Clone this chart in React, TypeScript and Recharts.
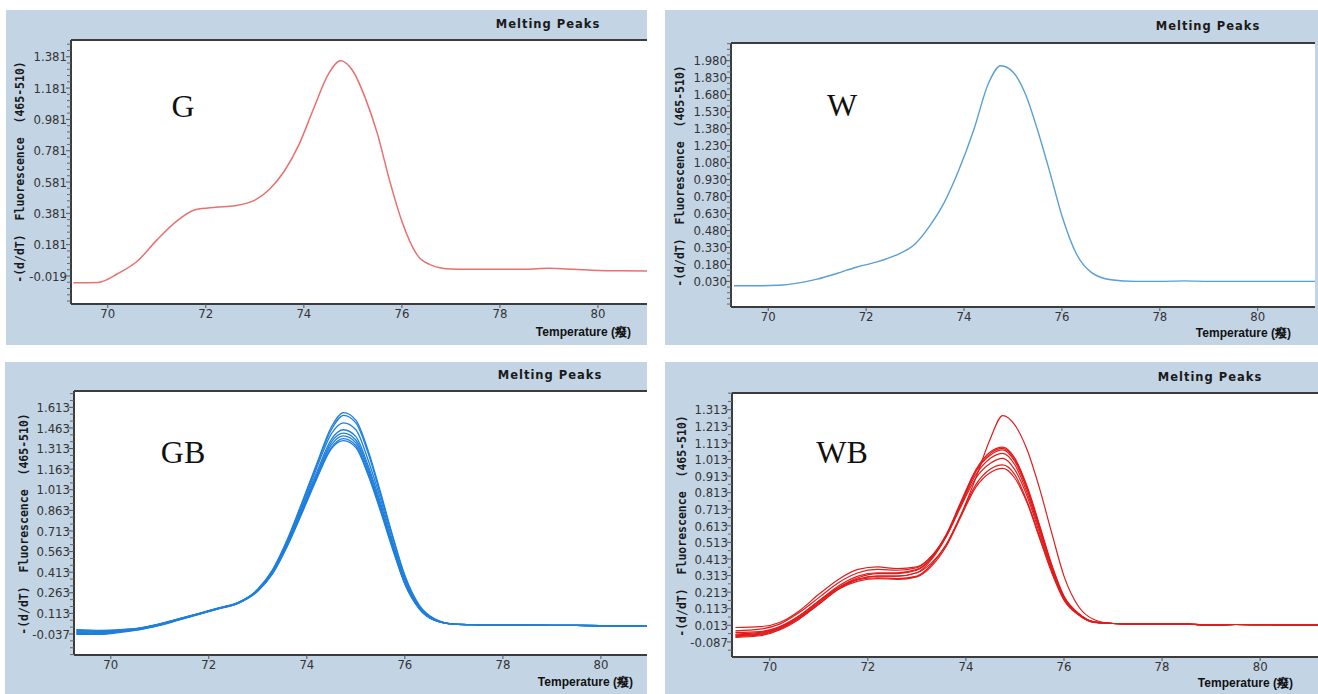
import { LineChart, Line, XAxis, YAxis, CartesianGrid, ReferenceLine } from "recharts";

// temperature grid (°C) shared by every trace
const temps = [
  69.3, 69.8, 70.2, 70.6, 71.0, 71.4, 71.8, 72.2, 72.6, 73.0, 73.3, 73.6, 73.9, 74.2, 74.5, 74.75,
  75.0, 75.25, 75.5, 75.75, 76.0, 76.3, 76.6, 77.0, 77.5, 78.0, 78.5, 79.0, 79.5, 80.0, 80.5, 81.0, 81.2,
];

const xTicks = [70, 72, 74, 76, 78, 80];

// G
const gValues = [
  -0.062, -0.06, -0.005, 0.075, 0.21, 0.33, 0.405, 0.42, 0.43, 0.465, 0.535, 0.65, 0.82, 1.05, 1.27, 1.355,
  1.29, 1.12, 0.89, 0.59, 0.33, 0.12, 0.05, 0.025, 0.024, 0.024, 0.024, 0.03, 0.024, 0.016, 0.014, 0.013, 0.013,
];
const gTicks = [-0.019, 0.181, 0.381, 0.581, 0.781, 0.981, 1.181, 1.381];

// W
const wValues = [
  -0.008, -0.008, -0.004, 0.015, 0.05, 0.1, 0.155, 0.2, 0.26, 0.36, 0.52, 0.73, 1.02, 1.37, 1.78, 1.935,
  1.88, 1.69, 1.37, 1.0, 0.61, 0.27, 0.11, 0.045, 0.03, 0.03, 0.035, 0.03, 0.03, 0.03, 0.03, 0.03, 0.03,
];
const wTicks = [0.03, 0.18, 0.33, 0.48, 0.63, 0.78, 0.93, 1.08, 1.23, 1.38, 1.53, 1.68, 1.83, 1.98];

// GB (8 replicates)
const gbTail = [0.035, 0.03, 0.028, 0.027, 0.026, 0.025, 0.023, 0.022, 0.021, 0.021];
const gb1 = [-0.035, -0.03, -0.015, 0.0, 0.03, 0.07, 0.11, 0.15, 0.19, 0.29, 0.43, 0.65, 0.92, 1.2, 1.47, 1.575, 1.52, 1.3, 1.0, 0.68, 0.39, 0.17, 0.075, ...gbTail];
const gb2 = [-0.03, -0.035, -0.02, -0.003, 0.028, 0.068, 0.108, 0.148, 0.188, 0.285, 0.425, 0.64, 0.91, 1.19, 1.45, 1.555, 1.5, 1.28, 0.98, 0.67, 0.38, 0.165, 0.072, ...gbTail];
const gb3 = [-0.01, -0.015, -0.008, 0.006, 0.036, 0.074, 0.112, 0.152, 0.192, 0.282, 0.42, 0.63, 0.89, 1.17, 1.42, 1.5, 1.45, 1.23, 0.95, 0.64, 0.36, 0.16, 0.07, ...gbTail];
const gb4 = [-0.02, -0.025, -0.012, 0.004, 0.034, 0.072, 0.11, 0.15, 0.19, 0.28, 0.415, 0.625, 0.88, 1.14, 1.38, 1.45, 1.4, 1.19, 0.92, 0.62, 0.35, 0.155, 0.068, ...gbTail];
const gb5 = [-0.005, -0.01, -0.005, 0.008, 0.037, 0.075, 0.113, 0.153, 0.193, 0.28, 0.41, 0.62, 0.87, 1.12, 1.36, 1.425, 1.375, 1.17, 0.9, 0.61, 0.34, 0.15, 0.066, ...gbTail];
const gb6 = [-0.04, -0.04, -0.025, -0.005, 0.025, 0.065, 0.105, 0.145, 0.185, 0.275, 0.405, 0.61, 0.86, 1.11, 1.34, 1.405, 1.355, 1.15, 0.88, 0.6, 0.335, 0.148, 0.065, ...gbTail];
const gb7 = [-0.015, -0.02, -0.01, 0.005, 0.035, 0.073, 0.111, 0.151, 0.19, 0.278, 0.405, 0.605, 0.85, 1.1, 1.32, 1.385, 1.335, 1.13, 0.87, 0.59, 0.33, 0.145, 0.064, ...gbTail];
const gb8 = [-0.025, -0.03, -0.018, 0.0, 0.03, 0.069, 0.108, 0.148, 0.188, 0.276, 0.4, 0.6, 0.84, 1.09, 1.31, 1.37, 1.32, 1.12, 0.86, 0.58, 0.325, 0.143, 0.063, ...gbTail];
const gbTicks = [-0.037, 0.113, 0.263, 0.413, 0.563, 0.713, 0.863, 1.013, 1.163, 1.313, 1.463, 1.613];

// WB (8 replicates)
const wbTail = [0.024, 0.02, 0.02, 0.02, 0.014, 0.018, 0.017, 0.016, 0.016, 0.016];
const wb1 = [-0.03, -0.025, 0.005, 0.07, 0.16, 0.24, 0.29, 0.31, 0.31, 0.33, 0.39, 0.5, 0.68, 0.9, 1.14, 1.278, 1.22, 1.07, 0.84, 0.57, 0.31, 0.125, 0.05, ...wbTail];
const wb2 = [-0.05, -0.04, -0.005, 0.06, 0.15, 0.24, 0.3, 0.325, 0.325, 0.345, 0.42, 0.56, 0.76, 0.95, 1.06, 1.088, 1.02, 0.85, 0.62, 0.38, 0.19, 0.085, 0.035, ...wbTail];
const wb3 = [-0.06, -0.05, -0.015, 0.05, 0.14, 0.23, 0.29, 0.31, 0.31, 0.33, 0.41, 0.55, 0.75, 0.94, 1.05, 1.08, 1.01, 0.84, 0.61, 0.37, 0.185, 0.083, 0.034, ...wbTail];
const wb4 = [-0.02, -0.01, 0.02, 0.09, 0.18, 0.27, 0.33, 0.35, 0.345, 0.36, 0.43, 0.56, 0.75, 0.94, 1.04, 1.071, 1.0, 0.83, 0.6, 0.37, 0.18, 0.08, 0.034, ...wbTail];
const wb5 = [-0.04, -0.03, 0.0, 0.07, 0.16, 0.25, 0.31, 0.33, 0.33, 0.35, 0.42, 0.55, 0.74, 0.92, 1.02, 1.05, 0.98, 0.81, 0.59, 0.36, 0.18, 0.08, 0.033, ...wbTail];
const wb6 = [0.0, 0.005, 0.03, 0.1, 0.2, 0.29, 0.35, 0.365, 0.355, 0.365, 0.43, 0.55, 0.73, 0.9, 0.99, 1.02, 0.95, 0.79, 0.57, 0.35, 0.175, 0.078, 0.032, ...wbTail];
const wb7 = [-0.045, -0.035, -0.005, 0.06, 0.15, 0.24, 0.29, 0.3, 0.295, 0.31, 0.38, 0.5, 0.68, 0.86, 0.955, 0.98, 0.92, 0.76, 0.55, 0.34, 0.17, 0.076, 0.032, ...wbTail];
const wb8 = [-0.055, -0.045, -0.01, 0.055, 0.14, 0.23, 0.28, 0.295, 0.29, 0.305, 0.37, 0.49, 0.67, 0.845, 0.935, 0.96, 0.9, 0.75, 0.54, 0.33, 0.165, 0.075, 0.031, ...wbTail];
const wbTicks = [-0.087, 0.013, 0.113, 0.213, 0.313, 0.413, 0.513, 0.613, 0.713, 0.813, 0.913, 1.013, 1.113, 1.213, 1.313];

const PANEL_BG = "#c3d4e5";
const FRAME = "#3c3c3c";
const TICK_FONT = "'Liberation Sans Narrow', 'DejaVu Sans Condensed', 'Liberation Sans', sans-serif";
const Y_TITLE = "-(d/dT)  Fluorescence  (465-510)";
const X_TITLE = "Temperature (癈)";

function buildRows(series: number[][]) {
  return temps.map((t, i) => {
    const row: Record<string, number> = { t };
    series.forEach((s, k) => {
      row["s" + k] = s[i];
    });
    return row;
  });
}

// major ticks plus minor marks between them
function withMinors(majors: number[], sub: number, domain: [number, number]) {
  const step = (majors[1] - majors[0]) / sub;
  const out: number[] = [];
  for (let v = majors[0]; v >= domain[0]; v -= step) out.unshift(+v.toFixed(4));
  for (let v = majors[0] + step; v <= domain[1]; v += step) out.push(+v.toFixed(4));
  return out;
}

const makeYTick = (majors: number[]) => (props: any) => {
  const { x, y, payload } = props;
  const major = majors.some((m) => Math.abs(m - payload.value) < 1e-4);
  if (!major) {
    return <line x1={x - 4} x2={x} y1={y} y2={y} stroke="#666" strokeWidth={1} />;
  }
  return (
    <g>
      <line x1={x - 5} x2={x} y1={y} y2={y} stroke="#555" strokeWidth={1} />
      <text x={x - 4} y={y} dy="0.36em" textAnchor="end" fontSize={13} fontFamily={TICK_FONT} fill="#333">
        {payload.value.toFixed(3)}
      </text>
    </g>
  );
};

interface PanelProps {
  left: number;
  top: number;
  w: number;
  h: number;
  plot: { l: number; t: number; r: number; b: number };
  xDomain: [number, number];
  yDomain: [number, number];
  majors: number[];
  sub: number;
  series: number[][];
  color: string;
  strokeWidth: number;
  letter: string;
  letterAt: [number, number];
  titleAt: [number, number];
  yLabelAt: [number, number];
  xLabelAt: [number, number];
}

function Panel(p: PanelProps) {
  const rows = buildRows(p.series);
  const yAxisW = 50;
  const xAxisH = 30;
  return (
    <div style={{ position: "absolute", left: p.left, top: p.top, width: p.w, height: p.h, background: PANEL_BG, overflow: "hidden" }}>
      <LineChart
        width={p.w}
        height={p.h}
        data={rows}
        margin={{ top: p.plot.t, right: p.w - p.plot.r, left: p.plot.l - yAxisW, bottom: p.h - p.plot.b - xAxisH }}
      >
        <CartesianGrid horizontal={false} vertical={false} fill="#ffffff" stroke="none" />
        <XAxis
          type="number"
          dataKey="t"
          domain={p.xDomain}
          allowDataOverflow
          ticks={xTicks}
          interval={0}
          height={xAxisH}
          tickSize={4}
          tickMargin={1}
          axisLine={{ stroke: FRAME, strokeWidth: 2 }}
          tickLine={{ stroke: "#555" }}
          tick={{ fontSize: 13, fill: "#333", fontFamily: TICK_FONT }}
        />
        <YAxis
          type="number"
          domain={p.yDomain}
          allowDataOverflow
          ticks={withMinors(p.majors, p.sub, p.yDomain)}
          interval={0}
          width={yAxisW}
          tickSize={0}
          tickMargin={0}
          tickLine={false}
          axisLine={{ stroke: FRAME, strokeWidth: 2 }}
          tick={makeYTick(p.majors)}
        />
        <ReferenceLine y={p.yDomain[1]} stroke={FRAME} strokeWidth={2} ifOverflow="visible" />
        {p.series.map((_, k) => (
          <Line
            key={k}
            type="monotone"
            dataKey={"s" + k}
            stroke={p.color}
            strokeWidth={p.strokeWidth}
            dot={false}
            activeDot={false}
            isAnimationActive={false}
          />
        ))}
      </LineChart>
      <div
        style={{
          position: "absolute",
          left: p.letterAt[0],
          top: p.letterAt[1],
          transform: "translate(-50%, -50%)",
          fontFamily: "'Liberation Serif', 'Times New Roman', serif",
          fontSize: 32,
          lineHeight: 1,
          color: "#111",
        }}
      >
        {p.letter}
      </div>
      <div
        style={{
          position: "absolute",
          left: p.titleAt[0],
          top: p.titleAt[1],
          transform: "translate(-50%, -50%)",
          fontFamily: "'DejaVu Sans', Verdana, sans-serif",
          fontWeight: "bold",
          fontSize: 11.5,
          letterSpacing: "1px",
          whiteSpace: "nowrap",
          color: "#1a1a1a",
        }}
      >
        Melting Peaks
      </div>
      <div
        style={{
          position: "absolute",
          left: p.yLabelAt[0],
          top: p.yLabelAt[1],
          transform: "translate(-50%, -50%) rotate(-90deg)",
          fontFamily: "'DejaVu Sans Mono', 'Liberation Mono', monospace",
          fontWeight: "bold",
          fontSize: 11.5,
          lineHeight: 1,
          whiteSpace: "pre",
          color: "#1a1a1a",
        }}
      >
        {Y_TITLE}
      </div>
      <div
        style={{
          position: "absolute",
          right: p.w - p.xLabelAt[0],
          top: p.xLabelAt[1],
          transform: "translateY(-50%)",
          fontFamily: "'Liberation Sans', Arial, sans-serif",
          fontWeight: "bold",
          fontSize: 12,
          lineHeight: 1,
          whiteSpace: "nowrap",
          color: "#111",
        }}
      >
        {X_TITLE}
      </div>
    </div>
  );
}

export default function App() {
  return (
    <div style={{ position: "absolute", left: 0, top: 0, width: 1318, height: 694, background: "#ffffff", overflow: "hidden" }}>
      <Panel
        left={6}
        top={10}
        w={641}
        h={335}
        plot={{ l: 65, t: 30, r: 641, b: 294 }}
        xDomain={[69.25, 81.0]}
        yDomain={[-0.198, 1.488]}
        majors={gTicks}
        sub={5}
        series={[gValues]}
        color="#e8706e"
        strokeWidth={1.5}
        letter="G"
        letterAt={[177, 96]}
        titleAt={[542, 14]}
        yLabelAt={[15, 162]}
        xLabelAt={[625, 322]}
      />
      <Panel
        left={665}
        top={10}
        w={653}
        h={335}
        plot={{ l: 66, t: 33, r: 650, b: 297 }}
        xDomain={[69.24, 81.17]}
        yDomain={[-0.196, 2.136]}
        majors={wTicks}
        sub={3}
        series={[wValues]}
        color="#5a9fd4"
        strokeWidth={1.4}
        letter="W"
        letterAt={[177, 95]}
        titleAt={[543, 16]}
        yLabelAt={[16, 166]}
        xLabelAt={[626, 323]}
      />
      <Panel
        left={5}
        top={362}
        w={642}
        h={332}
        plot={{ l: 69, t: 29, r: 642, b: 293 }}
        xDomain={[69.25, 80.94]}
        yDomain={[-0.19, 1.732]}
        majors={gbTicks}
        sub={3}
        series={[gb1, gb2, gb3, gb4, gb5, gb6, gb7, gb8]}
        color="#1f7fdc"
        strokeWidth={1.3}
        letter="GB"
        letterAt={[178, 90]}
        titleAt={[545, 13]}
        yLabelAt={[20, 162]}
        xLabelAt={[628, 320]}
      />
      <Panel
        left={665}
        top={362}
        w={653}
        h={332}
        plot={{ l: 67, t: 31, r: 653, b: 295 }}
        xDomain={[69.23, 81.18]}
        yDomain={[-0.178, 1.414]}
        majors={wbTicks}
        sub={2}
        series={[wb1, wb2, wb3, wb4, wb5, wb6, wb7, wb8]}
        color="#e01c1c"
        strokeWidth={1.2}
        letter="WB"
        letterAt={[177, 90]}
        titleAt={[545, 15]}
        yLabelAt={[18, 164]}
        xLabelAt={[628, 321]}
      />
    </div>
  );
}
